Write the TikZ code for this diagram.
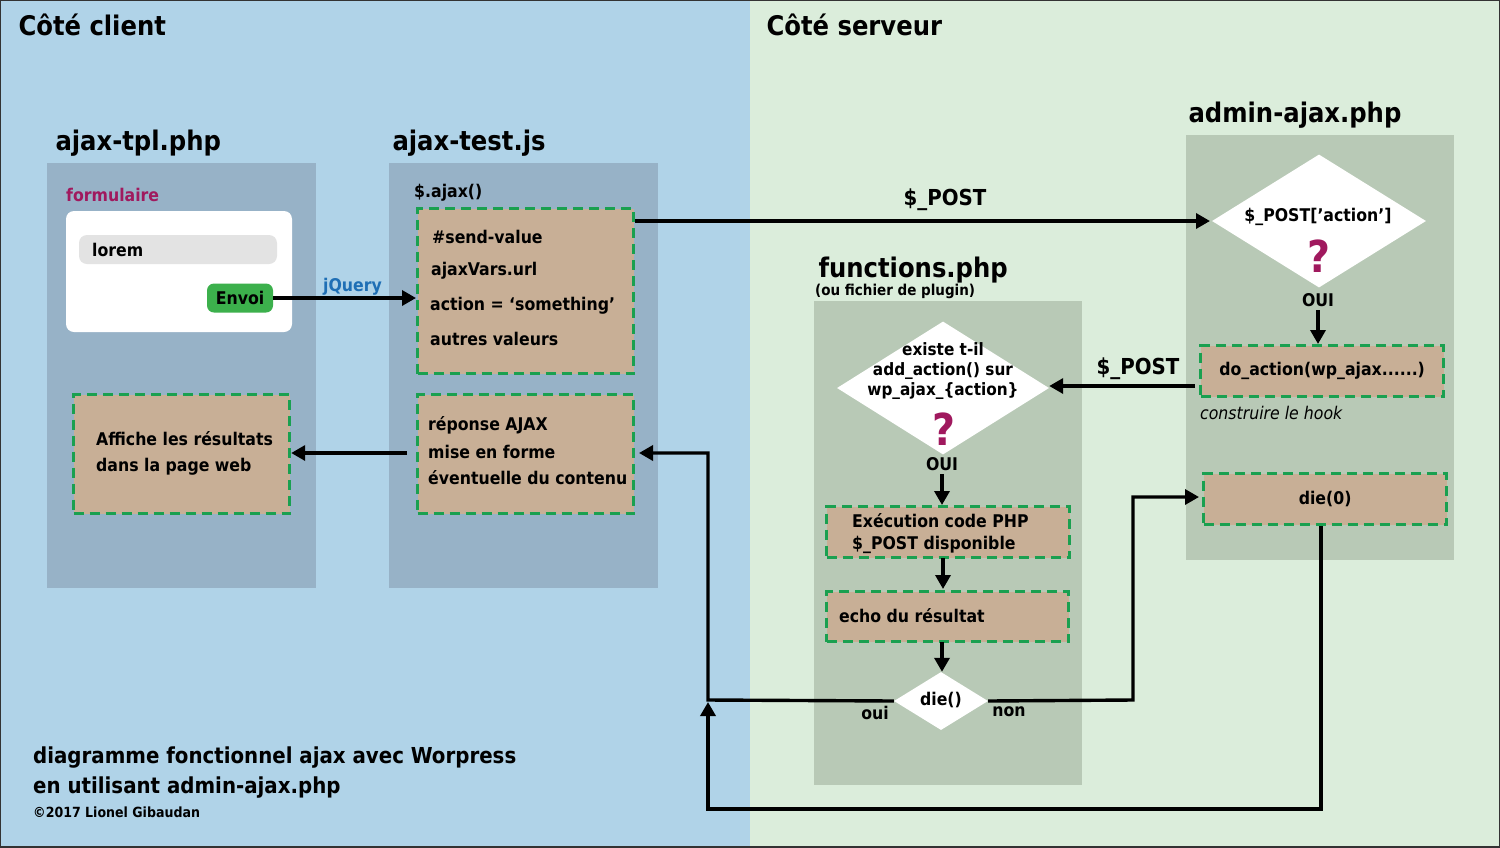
\documentclass[tikz,border=0pt]{standalone}
\usepackage{fontspec}
\setmainfont{DejaVu Sans Condensed}
\usetikzlibrary{shapes.geometric,arrows.meta}
\definecolor{bgL}{HTML}{B0D3E8}
\definecolor{bgR}{HTML}{DBEDDB}
\definecolor{panL}{HTML}{97B2C7}
\definecolor{panR}{HTML}{B8C9B6}
\definecolor{tan}{HTML}{C8AF96}
\definecolor{dgreen}{HTML}{1AA050}
\definecolor{mag}{HTML}{A0195E}
\definecolor{jq}{HTML}{1F6FB5}
\definecolor{btn}{HTML}{3CB04C}
\begin{document}
\begin{tikzpicture}[x=1pt,y=-1pt,
  font=\bfseries\fontsize{17.5}{20}\selectfont,
  title/.style={anchor=base west,font=\bfseries\fontsize{27}{30}\selectfont},
  box/.style={draw=dgreen,fill=tan,line width=3.2pt,dash pattern=on 10pt off 6pt},
  txt/.style={anchor=base west,inner sep=0},
  dia/.style={diamond,fill=white,aspect=1.6,inner sep=0},
  arr/.style={line width=3.4pt,-{Triangle[length=14pt,width=15pt]}},
  ln/.style={line width=3.4pt}]
\useasboundingbox (0,0) rectangle (1500,847);
\fill[bgL] (0,0) rectangle (750,847);
\fill[bgR] (750,0) rectangle (1500,847);
\draw[line width=1.5pt,black!80] (0,0) rectangle (1500,847);
\node[title] at (15,35) {Côté client};
\node[title] at (763,35) {Côté serveur};
% panels
\fill[panL] (47,163) rectangle (316,588);
\fill[panL] (389,163) rectangle (658,588);
\fill[panR] (1186,135) rectangle (1454,560);
\fill[panR] (814,301) rectangle (1082,785);
\node[title] at (52,150) {ajax-tpl.php};
\node[title] at (389,150) {ajax-test.js};
\node[title] at (1185,122) {admin-ajax.php};
\node[title] at (815,277) {functions.php};
\node[txt,font=\bfseries\fontsize{15}{17}\selectfont] at (815,295) {(ou fichier de plugin)};
% form
\node[txt,text=mag] at (66,201) {formulaire};
\fill[white,rounded corners=8pt] (66,211) rectangle (292,332);
\fill[black!11,rounded corners=8pt] (79,235) rectangle (277,264);
\node[txt] at (92,256) {lorem};
\node[fill=btn,rounded corners=7pt,minimum width=66pt,minimum height=29pt,inner sep=0] (envoi) at (240,298) {Envoi};
\node[txt,text=jq] at (323,291) {jQuery};
\node[txt] at (414,197) {\$.ajax()};
% boxes
\node[box,minimum width=216pt,minimum height=165pt,anchor=north west] (b1) at (416,207) {};
\node[txt] at (432,243) {\#send-value};
\node[txt] at (431,275) {ajaxVars.url};
\node[txt] at (430,310) {action = ‘something’};
\node[txt] at (430,345) {autres valeurs};
\node[box,minimum width=216pt,minimum height=119pt,anchor=north west] (b2) at (416,393) {};
\node[txt] at (428,430) {réponse AJAX};
\node[txt] at (428,458) {mise en forme};
\node[txt] at (428,484) {éventuelle du contenu};
\node[box,minimum width=216pt,minimum height=119pt,anchor=north west] (b3) at (72,393) {};
\node[txt] at (96,445) {Affiche les résultats};
\node[txt] at (96,471) {dans la page web};
% admin-ajax
\node[dia,minimum width=214pt,minimum height=133pt] (d1) at (1319,221) {};
\node at (1318,217) {\$\_POST[’action’]};
\node[text=mag,font=\bfseries\fontsize{44}{44}\selectfont] at (1319,256) {?};
\node (oui1) at (1318,300) {OUI};
\node[box,minimum width=243pt,minimum height=51pt,anchor=north west] (do) at (1199,344) {};
\node at (do.center) {do\_action(wp\_ajax......)};
\node[txt,font=\itshape\fontsize{17.5}{20}\selectfont] at (1200,419) {construire le hook};
\node[box,minimum width=243pt,minimum height=51pt,anchor=north west] (die0) at (1202,472) {};
\node at (die0.center) {die(0)};
% functions
\node[dia,minimum width=212pt,minimum height=133pt] (d2) at (943,388) {};
\node[align=center,font=\bfseries\fontsize{17}{20}\selectfont] at (943,371) {existe t-il\\add\_action() sur\\wp\_ajax\_\{action\}};
\node[text=mag,font=\bfseries\fontsize{44}{44}\selectfont] at (944,429) {?};
\node (oui2) at (942,464) {OUI};
\node[box,minimum width=243pt,minimum height=51pt,anchor=north west] (ex) at (825,505) {};
\node[txt] at (852,527) {Exécution code PHP};
\node[txt] at (852,549) {\$\_POST disponible};
\node[box,minimum width=242pt,minimum height=50pt,anchor=north west] (echo) at (825,590) {};
\node[txt] at (839,622) {echo du résultat};
\node[dia,minimum width=94pt,minimum height=58pt] (die) at (941,701) {};
\node at (941,700) {die()};
\node at (875,713) {oui};
\node at (1009,712) {non};
% labels
\node[font=\bfseries\fontsize{22}{24}\selectfont] at (945,200) {\$\_POST};
\node[font=\bfseries\fontsize{22}{24}\selectfont] at (1138,369) {\$\_POST};
% arrows
\draw[arr] (envoi.east) -- (b1.west |- envoi.east);
\draw[arr] (b1.north east |- 0,221) -- (1210,221);
\draw[arr] (oui1.south) -- (oui1.south |- do.north);
\draw[arr] (1195,386) -- (d2.east |- 0,386);
\draw[arr] (oui2.south) -- (ex.north -| oui2.south);
\draw[arr] (943,558) -- (943,589);
\draw[arr] (942,642) -- (die.north -| 942,0);
\draw[arr] (407,453) -- (b3.east |- 0,453);
\coordinate (c1) at (708,700);
\coordinate (c2) at (708,453);
\draw[arr] (die.west) -- (c1) -- (c2) -- (639,453);
\draw[arr] (die.east) -- (1133,700) -- (1133,497) -- (1199,497);
\draw[arr] (die0.south -| 1321,0) -- (1321,809) -- (708,809) -- (708,702);
% footer
\node[txt,font=\bfseries\fontsize{22}{24}\selectfont] at (33,763) {diagramme fonctionnel ajax avec Worpress};
\node[txt,font=\bfseries\fontsize{22}{24}\selectfont] at (33,793) {en utilisant admin-ajax.php};
\node[txt,font=\bfseries\fontsize{14}{16}\selectfont] at (33,817) {©2017 Lionel Gibaudan};
\end{tikzpicture}
\end{document}
